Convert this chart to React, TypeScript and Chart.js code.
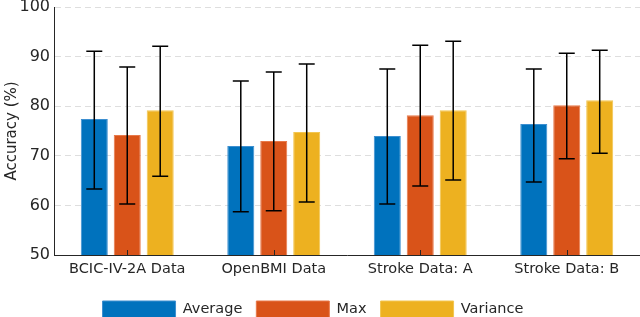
import React, { useEffect, useRef } from "react";
import { Chart, registerables } from "chart.js";

Chart.register(...registerables);

const categories = ["BCIC-IV-2A Data", "OpenBMI Data", "Stroke Data: A", "Stroke Data: B"];
const seriesNames = ["Average", "Max", "Variance"];
const averageValues = [77.4, 72.0, 74.0, 76.4];
const maxValues = [74.2, 73.0, 78.2, 80.2];
const varianceValues = [79.2, 74.8, 79.2, 81.2];
const averageLow = [63.3, 58.7, 60.3, 64.7];
const averageHigh = [91.1, 85.1, 87.5, 87.5];
const maxLow = [60.3, 58.9, 63.9, 69.4];
const maxHigh = [87.9, 86.9, 92.3, 90.7];
const varianceLow = [65.9, 60.7, 65.1, 70.5];
const varianceHigh = [92.1, 88.5, 93.1, 91.3];
const yTicks = [50, 60, 70, 80, 90, 100];

const colors = ["#0072BD", "#D95319", "#EDB120"];
const borders = ["#3d8fd0", "#e8794a", "#f3c650"];

const errorLows = [averageLow, maxLow, varianceLow];
const errorHighs = [averageHigh, maxHigh, varianceHigh];

const legendShiftPlugin = {
  id: "legendShift",
  afterLayout(chart: any) {
    if (chart.legend) {
      chart.legend.left -= 7;
      chart.legend.right -= 7;
    }
  },
};

const errorBarPlugin = {
  id: "errorBars",
  afterDatasetsDraw(chart: any) {
    const ctx = chart.ctx;
    const y = chart.scales.y;
    ctx.save();
    ctx.strokeStyle = "#000";
    ctx.lineWidth = 1.5;
    chart.data.datasets.forEach((_: any, di: number) => {
      const meta = chart.getDatasetMeta(di);
      meta.data.forEach((bar: any, i: number) => {
        const x = bar.x;
        const lo = y.getPixelForValue(errorLows[di][i]);
        const hi = y.getPixelForValue(errorHighs[di][i]);
        ctx.beginPath();
        ctx.moveTo(x, lo);
        ctx.lineTo(x, hi);
        ctx.moveTo(x - 8, lo);
        ctx.lineTo(x + 8, lo);
        ctx.moveTo(x - 8, hi);
        ctx.lineTo(x + 8, hi);
        ctx.stroke();
      });
    });
    const xs = chart.scales.x;
    ctx.strokeStyle = "#262626";
    ctx.lineWidth = 1;
    categories.forEach((_, i) => {
      const px = Math.round(xs.getPixelForValue(i)) + 0.5;
      ctx.beginPath();
      ctx.moveTo(px, chart.chartArea.bottom);
      ctx.lineTo(px, chart.chartArea.bottom - 5);
      ctx.stroke();
    });
    ctx.restore();
  },
};

export default function App() {
  const ref = useRef<HTMLCanvasElement>(null);
  useEffect(() => {
    const values = [averageValues, maxValues, varianceValues];
    const chart = new Chart(ref.current!, {
      type: "bar",
      data: {
        labels: categories,
        datasets: seriesNames.map((name, i) => ({
          label: name,
          data: values[i],
          backgroundColor: colors[i],
          borderColor: borders[i],
          borderWidth: 1,
          categoryPercentage: 0.675,
          barPercentage: 0.82,
        })),
      },
      options: {
        responsive: false,
        animation: false,
        layout: { padding: { top: 7, right: 0, left: 0, bottom: 0 } },
        plugins: {
          legend: {
            position: "bottom",
            labels: {
              boxWidth: 73,
              boxHeight: 17,
              font: { family: "DejaVu Sans", size: 14.5 },
              color: "#262626",
              padding: 14,
            },
          },
          tooltip: { enabled: false },
        },
        scales: {
          x: {
            grid: { display: false, drawTicks: false },
            border: { display: true, color: "#262626", width: 1 },
            ticks: { font: { family: "DejaVu Sans", size: 14.5 }, color: "#262626", padding: 6 },
            afterFit: (s: any) => { s.height = 32; s.paddingLeft = 0; s.paddingRight = 0; },
          },
          y: {
            min: 50,
            max: 100,
            afterBuildTicks: (s: any) => { s.ticks = yTicks.map((v) => ({ value: v })); },
            grid: { color: "#dedede", drawTicks: false },
            border: { display: true, color: "#262626", width: 1, dash: [6, 4] },
            ticks: { font: { family: "DejaVu Sans", size: 16 }, color: "#262626", padding: 4 },
            title: { display: true, text: "Accuracy (%)", font: { family: "DejaVu Sans", size: 15 }, color: "#262626", padding: 3 },
            afterFit: (s: any) => { s.width = 54; s.paddingTop = 0; s.paddingBottom = 0; },
          },
        },
      },
      plugins: [errorBarPlugin, legendShiftPlugin],
    } as any);
    return () => chart.destroy();
  }, []);
  return (
    <div style={{ position: "fixed", left: 0, top: 0, width: 640, height: 317, overflow: "hidden", background: "#fff" }}>
      <canvas ref={ref} width={640} height={328} />
    </div>
  );
}
